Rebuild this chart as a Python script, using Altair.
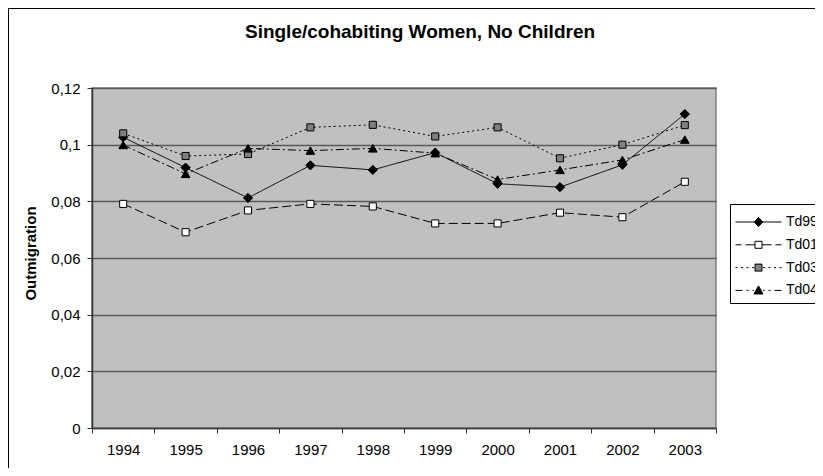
import altair as alt
import pandas as pd

years = [1994, 1995, 1996, 1997, 1998, 1999, 2000, 2001, 2002, 2003]
series_names = ["Td99", "Td01", "Td03", "Td04"]
td99 = [0.1026, 0.0919, 0.0812, 0.0927, 0.0911, 0.0972, 0.0862, 0.0850, 0.0929, 0.1108]
td01 = [0.0791, 0.0691, 0.0768, 0.0791, 0.0782, 0.0722, 0.0722, 0.0760, 0.0744, 0.0869]
td03 = [0.1040, 0.0960, 0.0967, 0.1061, 0.1070, 0.1029, 0.1061, 0.0952, 0.1000, 0.1069]
td04 = [0.0999, 0.0897, 0.0987, 0.0979, 0.0987, 0.0970, 0.0877, 0.0911, 0.0946, 0.1018]
y_ticks = [0, 0.02, 0.04, 0.06, 0.08, 0.10, 0.12]

rows = []
for name, vals in zip(series_names, [td99, td01, td03, td04]):
    for yr, v in zip(years, vals):
        rows.append({"year": yr, "series": name, "value": v})
df = pd.DataFrame(rows)

FONT = "Liberation Sans"

# styles per series
shapes = ["diamond", "square", "square", "triangle-up"]
fills = ["black", "white", "#808080", "black"]
sizes = [85, 50, 50, 75]
dashes = [[1, 0], [9, 4], [2, 3], [8, 3, 2, 3]]

# ---- legend symbol paths (line + marker), units: half symbol width = 1 ----
U = 23.0  # px per unit (symbol size 46^2)


def seg(a, b):
    return f"M{a / U:.4f},0H{b / U:.4f}"


def pattern(pat, start, end):
    out, x, i = [], start, 0
    while x < end:
        L = pat[i % len(pat)]
        if i % 2 == 0:
            out.append((x, min(x + L, end)))
        x += L
        i += 1
    return out


def both_sides(parts):
    res = [seg(a, b) for a, b in parts]
    res += [seg(-b, -a) for a, b in parts]
    return "".join(res)


def diamond(r):
    return f"M0,{-r * 1.1 / U:.4f}L{r / U:.4f},0L0,{r * 1.1 / U:.4f}L{-r / U:.4f},0Z"


def square(r):
    return f"M{-r / U:.4f},{-r / U:.4f}H{r / U:.4f}V{r / U:.4f}H{-r / U:.4f}Z"


def tri(r):
    return f"M0,{-r / U:.4f}L{r / U:.4f},{r * 0.8 / U:.4f}L{-r / U:.4f},{r * 0.8 / U:.4f}Z"


p99 = seg(-23, 23) + diamond(4.2)
p01 = both_sides(pattern([6, 4, 10], -23, -3.5)) + square(3.5)
p03 = both_sides(pattern([2, 3.5], -23, -3.5)) + square(3.5)
p04 = both_sides(pattern([7, 4, 2, 4], -23, -4.5)) + tri(4.5)

x_enc = alt.X(
    "year:O",
    bandPosition=0.5,
    scale=alt.Scale(type="band", paddingInner=0, paddingOuter=0),
    axis=alt.Axis(
        title=None, labelAngle=0, tickBand="extent", grid=False,
        labelFontSize=15, labelFont=FONT, labelColor="black", labelPadding=9,
        tickSize=5, tickColor="#333333", domainColor="#404040", domainWidth=1.5,
    ),
)
y_enc = alt.Y(
    "value:Q",
    scale=alt.Scale(domain=[0, 0.12], nice=False, zero=True),
    axis=alt.Axis(
        values=y_ticks,
        labelExpr="replace(format(datum.value, '.2~f'), '.', ',')",
        title="Outmigration", titleFont=FONT, titleFontSize=15, titleFontWeight="bold",
        titleColor="black", titleAngle=-90, titleX=-57, titleY=165,
        titleAlign="center", titleBaseline="alphabetic",
        labelFontSize=15, labelFont=FONT, labelColor="black", labelPadding=7,
        tickSize=5, tickColor="#333333", domainColor="#333333", domainWidth=1.5,
        grid=True, gridColor="#5a5a5a", gridWidth=1.5,
    ),
)

lines = alt.Chart(df).mark_line(color="black", strokeWidth=1).encode(
    x=x_enc, y=y_enc,
    strokeDash=alt.StrokeDash(
        "series:N",
        scale=alt.Scale(domain=series_names, range=dashes),
        legend=None,
    ),
)

point_layers = []
for name, shp, fc, sz in zip(series_names, shapes, fills, sizes):
    point_layers.append(
        alt.Chart(df).transform_filter(alt.datum.series == name).mark_point(
            shape=shp, filled=True, fill=fc, stroke="black", strokeWidth=1,
            opacity=1, size=sz,
        ).encode(x=x_enc, y=y_enc)
    )

leg = dict(
    title=" ", orient="none", legendX=638, legendY=116,
    strokeColor="black", fillColor="white", padding=5,
    symbolSize=2116, symbolStrokeWidth=1,
    clipHeight=12, rowPadding=8.8,
    labelFont=FONT, labelFontSize=14, labelColor="black", labelOffset=4,
    titleFontSize=1, titlePadding=6,
)

legend_layer = alt.Chart(df).transform_filter("false").mark_point(
    filled=True, opacity=1, strokeWidth=1
).encode(
    x=x_enc, y=y_enc,
    shape=alt.Shape("series:N",
                    scale=alt.Scale(domain=series_names, range=[p99, p01, p03, p04]),
                    legend=alt.Legend(**leg)),
    fill=alt.Fill("series:N",
                  scale=alt.Scale(domain=series_names, range=fills),
                  legend=alt.Legend(**leg)),
    stroke=alt.Stroke("series:N",
                      scale=alt.Scale(domain=series_names,
                                      range=["black", "black", "black", "black"]),
                      legend=alt.Legend(**leg)),
)

frame = alt.Chart(pd.DataFrame({"k": [0]})).mark_rect(
    fill=None, stroke="black", strokeWidth=1
).encode(
    x=alt.value(-83.5), x2=alt.value(900), y=alt.value(-79.5), y2=alt.value(600)
)

chart = alt.layer(frame, lines, *point_layers, legend_layer).resolve_scale(
    shape="independent", fill="independent", stroke="independent"
).properties(
    width=624, height=340,
    padding={"left": 84, "top": 80, "right": 99, "bottom": 40},
    autosize=alt.AutoSizeParams(type="none"),
    background="white",
    title=alt.Title(
        "Single/cohabiting Women, No Children",
        font=FONT, fontSize=19, fontWeight="bold", color="black",
        anchor="middle", dx=16, offset=0, dy=49, baseline="alphabetic",
    ),
).configure_view(
    fill="#c0c0c0", stroke="#808080", strokeWidth=1.5
).configure_legend(
    orient="none", legendX=638, legendY=116,
    strokeColor="black", fillColor="white", padding=5,
    symbolSize=2116, symbolStrokeWidth=1,
    clipHeight=12, rowPadding=8.8,
    labelFont=FONT, labelFontSize=14, labelColor="black", labelOffset=4,
    titleFontSize=1, titlePadding=6,
)

chart.save("out.html", embed_options={"renderer": "svg", "actions": False})
